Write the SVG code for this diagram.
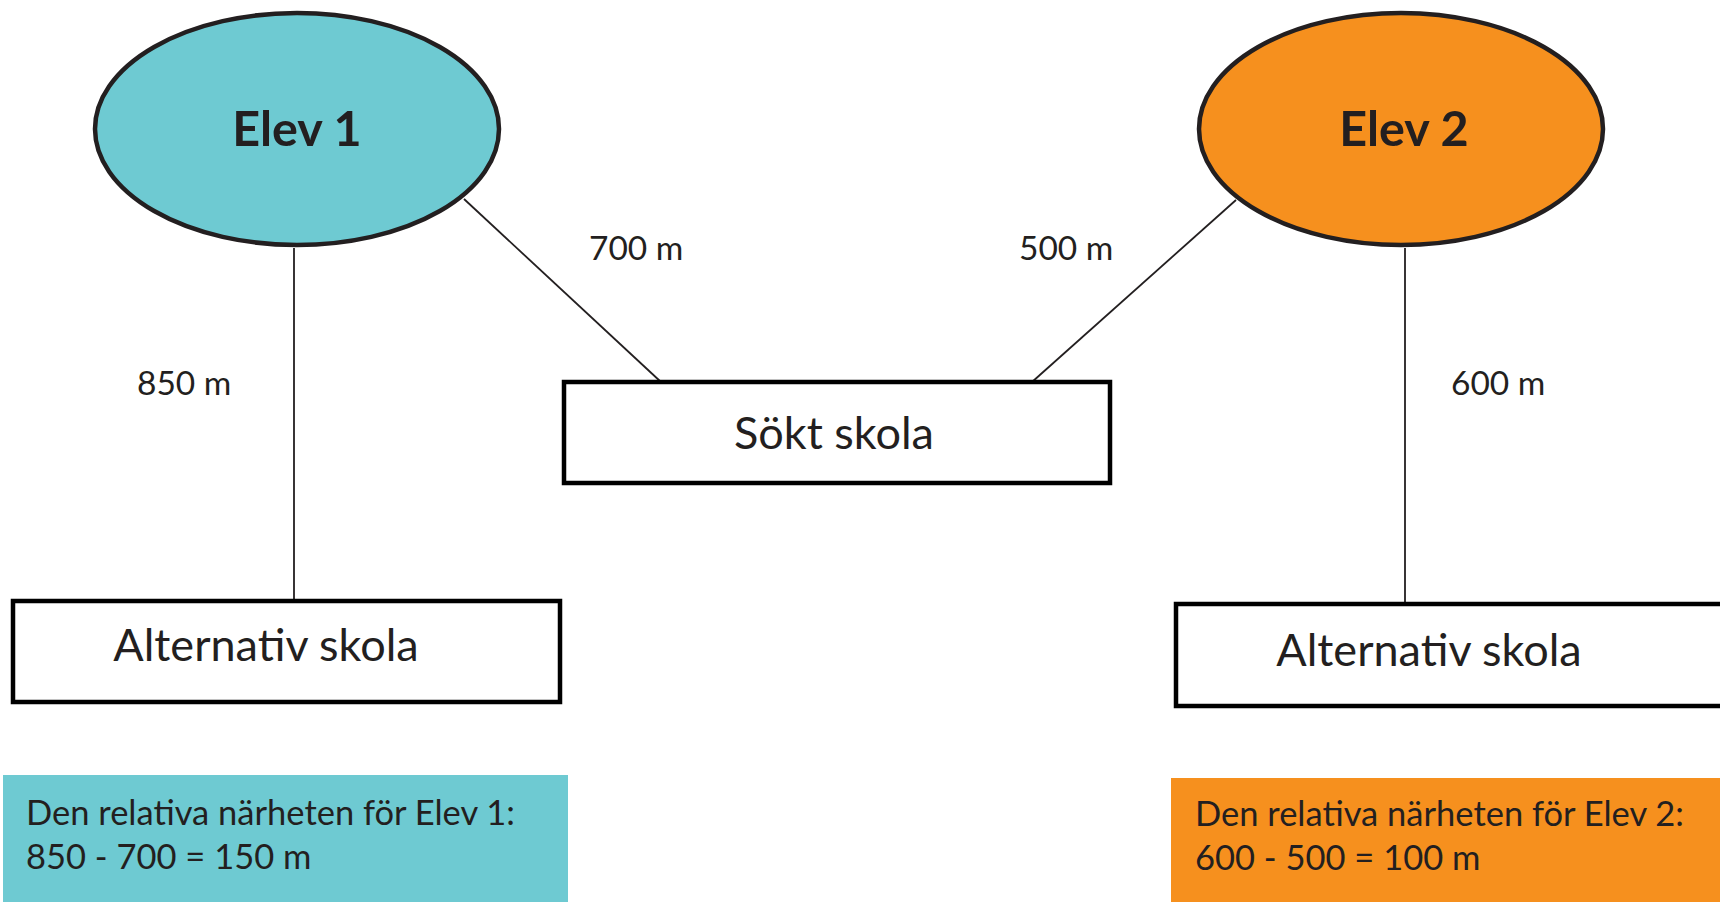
<svg xmlns="http://www.w3.org/2000/svg" width="1720" height="902" viewBox="0 0 1720 902">
<style>
  .t { font-family: Lato, "Open Sans", "Liberation Sans", sans-serif; fill: #231F20; }
  .node { stroke: #231F20; stroke-width: 4.5; }
  .box { fill: #FFFFFF; stroke: #000000; stroke-width: 4.5; }
  .edge { stroke: #231F20; stroke-width: 1.8; fill: none; }
  .lbl { font-size: 33.5px; }
  .big { font-size: 45px; }
  .info { font-size: 34.5px; }
  .head { font-size: 48.5px; font-weight: bold; }
</style>
<rect x="0" y="0" width="1720" height="902" fill="#FFFFFF"/>
<g id="connectors">
  <line class="edge" x1="294" y1="248" x2="294" y2="601"/>
  <line class="edge" x1="464" y1="199" x2="661" y2="382"/>
  <line class="edge" x1="1236" y1="200" x2="1032" y2="382"/>
  <line class="edge" x1="1405" y1="248" x2="1405" y2="604"/>
  <text class="t lbl" x="589" y="260">700 m</text>
  <text class="t lbl" x="137" y="395">850 m</text>
  <text class="t lbl" x="1019" y="260">500 m</text>
  <text class="t lbl" x="1451" y="395">600 m</text>
</g>
<g id="elev1">
  <ellipse class="node" cx="297" cy="129" rx="202" ry="116" fill="#6ECAD2"/>
  <text class="t head" x="297" y="146" text-anchor="middle">Elev 1</text>
</g>
<g id="elev2">
  <ellipse class="node" cx="1401" cy="129" rx="202" ry="116" fill="#F6901E"/>
  <text class="t head" x="1404" y="146" text-anchor="middle">Elev 2</text>
</g>
<g id="sokt">
  <rect class="box" x="564" y="382" width="546" height="101"/>
  <text class="t big" x="834" y="449" text-anchor="middle">Sökt skola</text>
</g>
<g id="alt1">
  <rect class="box" x="13" y="601" width="547" height="101"/>
  <text class="t big" x="266" y="661" text-anchor="middle">Alternativ skola</text>
</g>
<g id="alt2">
  <rect class="box" x="1176" y="604" width="560" height="102"/>
  <text class="t big" x="1429" y="666" text-anchor="middle">Alternativ skola</text>
</g>
<g id="info1">
  <rect x="3" y="775" width="565" height="127" fill="#6ECAD2"/>
  <text class="t info" x="26" y="825">Den relativa närheten för Elev 1:</text>
  <text class="t info" x="26" y="869">850 - 700 = 150 m</text>
</g>
<g id="info2">
  <rect x="1171" y="778" width="549" height="124" fill="#F6901E"/>
  <text class="t info" x="1195" y="826">Den relativa närheten för Elev 2:</text>
  <text class="t info" x="1195" y="870">600 - 500 = 100 m</text>
</g>
</svg>
